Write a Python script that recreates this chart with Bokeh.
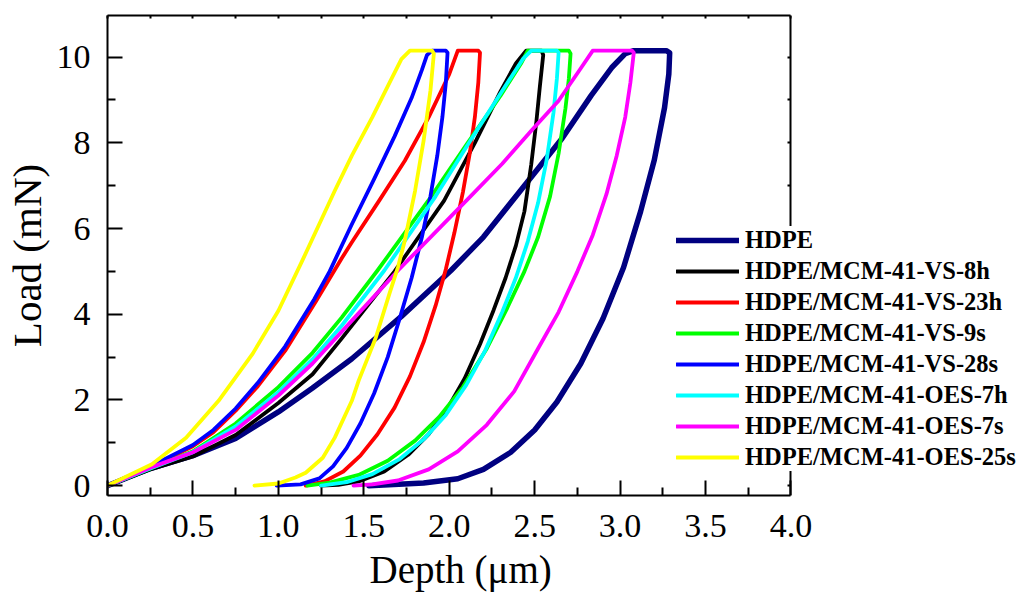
from bokeh.plotting import figure
from bokeh.models import Range1d, LinearAxis, FixedTicker, Legend, LegendItem, Title
from bokeh.embed import file_html
from bokeh.resources import INLINE

# Axis ticks
x_ticks = [0.0, 0.5, 1.0, 1.5, 2.0, 2.5, 3.0, 3.5, 4.0]
x_tick_labels = ["0.0", "0.5", "1.0", "1.5", "2.0", "2.5", "3.0", "3.5", "4.0"]
x_minor_ticks = [0.25, 0.75, 1.25, 1.75, 2.25, 2.75, 3.25, 3.75]
y_ticks = [0, 2, 4, 6, 8, 10]
y_tick_labels = ["0", "2", "4", "6", "8", "10"]
y_minor_ticks = [1, 3, 5, 7, 9]

# Load-depth curves (loading, hold at peak load, unloading)
hdpe_depth = [0, 0.25, 0.5, 0.75, 1.0, 1.2, 1.43, 1.72, 2.01, 2.2, 2.4, 2.66, 2.83, 2.95, 3.03,
              3.08, 3.27, 3.29, 3.285, 3.26, 3.2, 3.12, 3.02, 2.9, 2.77, 2.63, 2.5, 2.36, 2.2,
              2.05, 1.85, 1.53]
hdpe_load = [0, 0.4, 0.7, 1.1, 1.72, 2.28, 2.96, 3.95, 5.02, 5.8, 6.8, 8.1, 9.1, 9.75, 10.08,
             10.15, 10.15, 10.1, 9.6, 8.82, 7.6, 6.4, 5.09, 3.9, 2.85, 1.95, 1.3, 0.78, 0.38,
             0.16, 0.06, 0.0]

vs8h_depth = [0, 0.25, 0.5, 0.75, 1.0, 1.2, 1.37, 1.68, 1.97, 2.15, 2.3, 2.39, 2.45, 2.54,
              2.55, 2.53, 2.51, 2.48, 2.44, 2.39, 2.33, 2.26, 2.18, 2.09, 1.99, 1.88, 1.76,
              1.62, 1.47, 1.35, 1.25]
vs8h_load = [0, 0.38, 0.68, 1.18, 1.93, 2.6, 3.43, 5.0, 6.65, 8.0, 9.2, 9.85, 10.15, 10.15,
             10.05, 9.3, 8.5, 7.5, 6.4, 5.6, 4.85, 4.1, 3.3, 2.5, 1.8, 1.2, 0.72, 0.33, 0.1,
             0.02, 0.0]

vs23h_depth = [0, 0.25, 0.5, 0.62, 0.75, 0.88, 1.04, 1.22, 1.37, 1.43, 1.59, 1.74, 1.88, 2.0,
               2.05, 2.17, 2.18, 2.17, 2.15, 2.12, 2.08, 2.03, 1.98, 1.92, 1.85, 1.77, 1.68,
               1.58, 1.48, 1.38, 1.27, 1.16]
vs23h_load = [0, 0.43, 0.92, 1.25, 1.75, 2.32, 3.15, 4.3, 5.3, 5.68, 6.65, 7.58, 8.6, 9.6,
              10.15, 10.15, 10.1, 9.4, 8.6, 7.75, 6.85, 5.9, 5.05, 4.2, 3.35, 2.55, 1.82, 1.2,
              0.7, 0.33, 0.1, 0.0]

vs9s_depth = [0, 0.25, 0.5, 0.75, 1.0, 1.2, 1.37, 1.58, 1.89, 2.1, 2.3, 2.42, 2.46, 2.7, 2.71,
              2.7, 2.68, 2.64, 2.59, 2.52, 2.44, 2.34, 2.22, 2.08, 1.94, 1.8, 1.64, 1.47, 1.3,
              1.17]
vs9s_load = [0, 0.4, 0.8, 1.45, 2.3, 3.1, 3.92, 5.02, 6.72, 7.95, 9.1, 9.85, 10.15, 10.15,
             10.08, 9.5, 8.8, 7.75, 6.75, 5.8, 5.0, 4.15, 3.2, 2.3, 1.6, 1.05, 0.58, 0.25, 0.07,
             0.0]

vs28s_depth = [0, 0.25, 0.5, 0.62, 0.75, 0.88, 1.04, 1.21, 1.3, 1.43, 1.56, 1.68, 1.78, 1.84,
               1.87, 1.9, 1.98, 1.99, 1.98, 1.96, 1.93, 1.89, 1.84, 1.78, 1.71, 1.64, 1.56, 1.48,
               1.4, 1.32, 1.24, 1.13, 0.99]
vs28s_load = [0, 0.45, 0.95, 1.3, 1.8, 2.4, 3.25, 4.35, 5.0, 6.1, 7.15, 8.15, 9.05, 9.7, 10.05,
              10.15, 10.15, 10.1, 9.4, 8.6, 7.7, 6.75, 5.8, 4.85, 3.9, 3.0, 2.15, 1.45, 0.88,
              0.45, 0.17, 0.03, 0.0]

oes7h_depth = [0, 0.25, 0.5, 0.75, 1.0, 1.2, 1.37, 1.62, 1.92, 2.1, 2.3, 2.43, 2.48, 2.63, 2.64,
               2.63, 2.61, 2.57, 2.52, 2.46, 2.39, 2.31, 2.21, 2.1, 1.98, 1.85, 1.71, 1.55, 1.4,
               1.25]
oes7h_load = [0, 0.4, 0.78, 1.38, 2.18, 2.95, 3.73, 5.02, 6.75, 7.9, 9.15, 9.95, 10.15, 10.15,
              10.1, 9.5, 8.7, 7.6, 6.6, 5.7, 4.85, 4.05, 3.15, 2.35, 1.65, 1.08, 0.62, 0.27,
              0.08, 0.0]

oes7s_depth = [0, 0.25, 0.5, 0.75, 1.0, 1.2, 1.43, 1.7, 2.1, 2.31, 2.48, 2.64, 2.76, 2.84, 3.07,
               3.08, 3.06, 3.03, 2.98, 2.92, 2.84, 2.75, 2.64, 2.52, 2.38, 2.22, 2.05, 1.88, 1.7,
               1.55, 1.44]
oes7s_load = [0, 0.42, 0.78, 1.3, 2.1, 2.85, 3.85, 5.02, 6.65, 7.51, 8.28, 8.98, 9.68, 10.15,
              10.15, 10.1, 9.4, 8.6, 7.7, 6.8, 5.85, 5.0, 4.05, 3.2, 2.2, 1.42, 0.8, 0.38, 0.12,
              0.03, 0.0]

oes25s_depth = [0, 0.26, 0.46, 0.65, 0.85, 1.0, 1.14, 1.33, 1.43, 1.55, 1.65, 1.72, 1.77, 1.9,
                1.91, 1.89, 1.85, 1.8, 1.74, 1.7, 1.65, 1.57, 1.47, 1.43, 1.33, 1.26, 1.16, 1.1,
                1.0, 0.86]
oes25s_load = [0, 0.5, 1.12, 1.98, 3.08, 4.08, 5.25, 6.88, 7.7, 8.6, 9.4, 9.95, 10.15, 10.15,
               10.08, 9.22, 8.05, 6.88, 5.72, 5.1, 4.48, 3.45, 2.45, 1.98, 1.12, 0.65, 0.3, 0.19,
               0.05, 0.0]

series_names = ["HDPE", "HDPE/MCM-41-VS-8h", "HDPE/MCM-41-VS-23h", "HDPE/MCM-41-VS-9s",
                "HDPE/MCM-41-VS-28s", "HDPE/MCM-41-OES-7h", "HDPE/MCM-41-OES-7s",
                "HDPE/MCM-41-OES-25s"]
series_depth = [hdpe_depth, vs8h_depth, vs23h_depth, vs9s_depth, vs28s_depth, oes7h_depth,
                oes7s_depth, oes25s_depth]
series_load = [hdpe_load, vs8h_load, vs23h_load, vs9s_load, vs28s_load, oes7h_load,
               oes7s_load, oes25s_load]
series_colors = ["#000080", "#000000", "#FF0000", "#00FF00", "#0000FF", "#00FFFF", "#FF00FF",
                 "#FFFF00"]
series_widths = [5.5, 3.8, 3.8, 3.8, 3.8, 3.8, 3.8, 3.8]

FONT = "Liberation Serif"
X_MAX = 4.0            # end of the depth axis
PX_PER_UNIT = 171.25   # horizontal scale of the frame
FRAME_W = 1018 - 105 - 1

# The frame reaches past the depth axis end so that the legend sitting on the
# right edge is not cut off; the axes themselves stop at X_MAX.
p = figure(width=1018, height=601, output_backend="svg", toolbar_location=None,
           x_range=Range1d(0, FRAME_W / PX_PER_UNIT), y_range=Range1d(-0.23, 10.97),
           x_axis_type=None, y_axis_type=None,
           min_border_left=105, min_border_right=1, min_border_top=15, min_border_bottom=106)
p.outline_line_color = None
p.xgrid.visible = False
p.ygrid.visible = False
p.background_fill_color = "white"
p.border_fill_color = "white"

x_ticker = FixedTicker(ticks=x_ticks, minor_ticks=x_minor_ticks)
y_ticker = FixedTicker(ticks=y_ticks, minor_ticks=y_minor_ticks)


def style_axis(ax, major_in, minor_in):
    ax.axis_line_color = "black"
    ax.axis_line_width = 2
    ax.major_tick_line_color = "black"
    ax.major_tick_line_width = 2
    ax.minor_tick_line_color = "black"
    ax.minor_tick_line_width = 2
    ax.major_tick_in = major_in
    ax.major_tick_out = 0
    ax.minor_tick_in = minor_in
    ax.minor_tick_out = 0


xb = LinearAxis(ticker=x_ticker, bounds=(0, X_MAX))
xb.major_label_overrides = {t: s for t, s in zip(x_ticks, x_tick_labels)}
style_axis(xb, 15, 8)
xb.major_label_text_font = FONT
xb.major_label_text_font_size = "34px"
xb.major_label_text_color = "black"
xb.major_label_standoff = 19
p.add_layout(xb, "below")

# depth axis title, centred under the 0-4 span of the axis
x_title = Title(text="Depth (\u03bcm)", align="left", offset=262, vertical_align="bottom",
                standoff=13, text_font=FONT, text_font_size="39px",
                text_font_style="normal", text_color="black")
p.add_layout(x_title, "below")

yl = LinearAxis(ticker=y_ticker, axis_label="Load (mN)")
yl.major_label_overrides = {t: s for t, s in zip(y_ticks, y_tick_labels)}
style_axis(yl, 15, 8)
yl.major_label_text_font = FONT
yl.major_label_text_font_size = "34px"
yl.major_label_text_color = "black"
yl.major_label_standoff = 17
yl.axis_label_text_font = FONT
yl.axis_label_text_font_size = "41px"
yl.axis_label_text_color = "black"
yl.axis_label_text_font_style = "normal"
yl.axis_label_standoff = 4
p.add_layout(yl, "left")

# top and right edges of the box: short inward ticks, no labels
xt = LinearAxis(ticker=x_ticker, bounds=(0, X_MAX))
style_axis(xt, 3, 3)
xt.major_label_text_color = None
xt.major_label_standoff = 0
p.add_layout(xt, "above")

yr = LinearAxis(ticker=y_ticker, fixed_location=X_MAX)
style_axis(yr, 3, 3)
yr.major_label_text_color = None
yr.major_label_standoff = 0
p.add_layout(yr, "right")

items = []
for name, xs, ys, color, lw in zip(series_names, series_depth, series_load, series_colors,
                                    series_widths):
    r = p.line(xs, ys, line_color=color, line_width=lw, line_join="round", line_cap="round")
    items.append(LegendItem(label=name, renderers=[r]))

legend = Legend(items=items, location=(569, 24), padding=17, spacing=3, margin=0,
                glyph_width=63, glyph_height=28, label_height=28, label_standoff=6,
                label_text_font=FONT, label_text_font_style="bold",
                label_text_font_size="24.5px", label_text_color="black",
                background_fill_color="white", background_fill_alpha=1.0,
                border_line_color=None)
p.add_layout(legend, "center")

open("out.html", "w").write(file_html(p, INLINE))
